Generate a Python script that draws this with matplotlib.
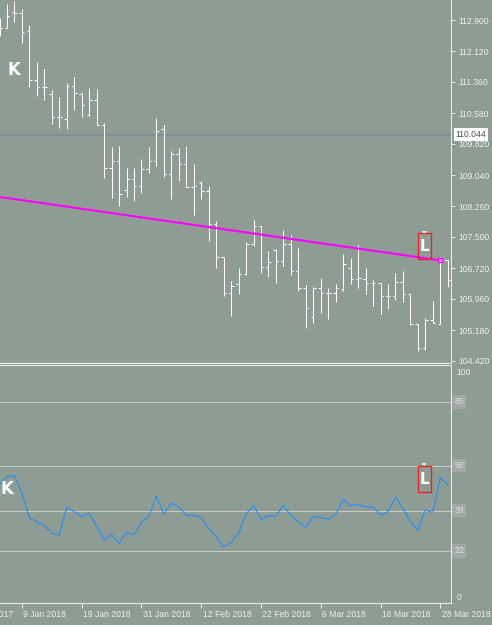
import matplotlib
matplotlib.use("Agg")
import matplotlib.pyplot as plt
from matplotlib.patches import Rectangle
import numpy as np

# daily bars, first one (index -1) is only partly on screen
bar_open = [112.601, 112.701, 113.100, 113.075, 112.626, 111.404, 111.229, 111.055, 110.481, 110.431,
            111.254, 111.055, 110.531, 110.905, 110.281, 109.209, 109.384, 108.660, 108.935, 108.760,
            109.184, 109.384, 110.182, 109.060, 109.558, 109.309, 108.735, 108.835, 108.635, 107.812,
            106.989, 106.092, 106.316, 106.565, 107.313, 107.762, 106.740, 107.164, 106.889, 107.313,
            106.640, 106.216, 105.493, 106.216, 106.092, 106.092, 106.191, 106.715, 106.441, 106.441,
            106.341, 106.341, 106.017, 106.017, 106.366, 106.067, 105.318, 104.720, 105.418, 105.318,
            106.914]
bar_high = [112.950, 113.299, 113.374, 113.175, 112.776, 111.853, 111.678, 111.154, 110.980, 111.329,
            111.479, 111.104, 111.204, 111.179, 110.331, 109.733, 109.758, 109.209, 109.209, 109.434,
            109.733, 110.456, 110.281, 109.633, 109.708, 109.758, 109.309, 108.885, 108.760, 107.887,
            106.989, 106.391, 106.715, 107.363, 107.912, 107.762, 107.139, 107.189, 107.663, 107.538,
            107.214, 106.291, 106.241, 106.466, 106.216, 106.316, 107.064, 106.964, 107.289, 106.715,
            106.416, 106.341, 106.316, 106.590, 106.640, 106.067, 105.318, 105.468, 105.892, 106.989,
            106.914]
bar_low = [112.501, 112.701, 112.850, 112.327, 111.229, 111.005, 110.905, 110.306, 110.207, 110.182,
           110.656, 110.481, 110.506, 110.281, 108.960, 108.461, 108.261, 108.486, 108.386, 108.586,
           109.085, 109.259, 108.985, 108.436, 108.885, 108.735, 108.037, 108.436, 107.388, 106.715,
           106.017, 105.518, 106.067, 106.540, 107.264, 106.590, 106.490, 106.341, 106.765, 106.540,
           106.141, 105.218, 105.343, 105.593, 105.443, 105.866, 106.141, 106.316, 106.216, 106.067,
           105.767, 105.567, 105.692, 105.917, 105.866, 105.293, 104.645, 104.670, 105.343, 105.318,
           106.241]
bar_close = [112.701, 113.000, 113.075, 112.601, 111.404, 111.229, 111.229, 110.481, 110.481, 111.254,
             111.080, 110.780, 110.905, 110.281, 109.209, 109.384, 108.561, 108.935, 108.760, 109.184,
             109.384, 110.132, 109.060, 109.558, 109.309, 108.735, 108.760, 108.635, 107.812, 106.989,
             106.092, 106.266, 106.565, 107.313, 107.762, 106.740, 106.864, 106.889, 107.313, 106.640,
             106.216, 105.717, 106.216, 106.092, 106.092, 106.216, 106.815, 106.441, 106.466, 106.341,
             106.341, 106.017, 106.017, 106.366, 106.067, 105.318, 104.720, 105.418, 105.343, 106.914,
             106.416]

# oscillator values, same bars
rsi = [50.1, 53.4, 53.8, 46.6, 35.8, 34.4, 32.7, 29.5, 28.8, 40.5,
       38.6, 36.5, 37.9, 32.3, 26.6, 29.0, 25.2, 29.9, 28.8, 34.1,
       36.5, 45.2, 37.5, 42.2, 40.7, 36.9, 37.2, 36.2, 31.6, 28.0,
       23.8, 25.5, 29.5, 37.6, 41.2, 35.4, 36.8, 36.8, 41.2, 36.9,
       34.4, 31.9, 36.5, 36.1, 35.5, 37.5, 43.8, 41.2, 41.7, 40.6,
       40.6, 37.2, 38.6, 44.7, 40.0, 34.4, 30.9, 39.3, 38.3, 53.0,
       49.9]

price_ticks = [112.900, 112.120, 111.360, 110.580, 109.820, 109.040,
               108.260, 107.500, 106.720, 105.960, 105.180, 104.420]
hline_price = 110.044
levels = [85, 58, 39, 22]

date_labels = ["28 Dec 2017", "9 Jan 2018", "19 Jan 2018", "31 Jan 2018", "12 Feb 2018",
               "22 Feb 2018", "6 Mar 2018", "16 Mar 2018", "28 Mar 2018"]
date_pos = [-6, 2, 10, 18, 26, 34, 42, 50, 58]

# trend line anchors (bar, price)
trend_bars = [-2, 58]
trend_prices = [108.521, 106.914]

bg = "#8e9c94"
fg = "#eef0ee"
small = "Liberation Sans"
W, H = 492, 625
idx = np.arange(-1, len(bar_open) - 1)

fig = plt.figure(figsize=(W / 100, H / 100), dpi=100)
fig.patch.set_facecolor(bg)
ax = fig.add_axes([0, (H - 362.5) / H, 451 / W, 362.5 / H])
ax2 = fig.add_axes([0, (H - 603) / H, 451 / W, (603 - 365) / H])

x0, x1 = -7 / 7.47, (451 - 7) / 7.47
for a in (ax, ax2):
    a.set_facecolor(bg)
    a.set_xlim(x0, x1)
    for s in ("left", "top"):
        a.spines[s].set_visible(False)
    for s in ("right", "bottom"):
        a.spines[s].set_color("#e8ece8")
        a.spines[s].set_linewidth(0.8)
ax2.spines["top"].set_visible(True)
ax2.spines["top"].set_color("#e8ece8")
ax2.spines["top"].set_linewidth(0.8)

# ---- price pane ----
ax.set_ylim(104.371, 113.399)
lw = 0.75
ax.vlines(idx, bar_low, bar_high, colors="white", lw=lw)
ax.hlines(bar_open, idx - 0.33, idx, colors="white", lw=lw)
ax.hlines(bar_close, idx, idx + 0.33, colors="white", lw=lw)

ax.axhline(hline_price, color="#7a8a9e", lw=1.1, zorder=1)
ax.plot(trend_bars, trend_prices, color="#ff00ff", lw=1.5, zorder=3)
ax.plot(trend_bars[-1], trend_prices[-1], marker="s", ms=3.5, mfc="#f2dff2",
        mec="#ff00ff", mew=1, zorder=4)

ax.set_xticks([])
ax.yaxis.tick_right()
ax.set_yticks(price_ticks)
ax.set_yticklabels(["%.3f" % p for p in price_ticks], family=small)
ax.tick_params(axis="y", colors=fg, labelsize=6.2, length=3, width=0.7, pad=2)
ax.annotate("%.3f" % hline_price, xy=(1, hline_price), xycoords=("axes fraction", "data"),
            xytext=(3.5, 0), textcoords="offset points", ha="left", va="center",
            fontsize=6.2, family=small, color="#505050",
            bbox=dict(boxstyle="square,pad=0.2", fc="white", ec="none"))

ax.text(0.95, 111.65, "K", color="white", fontsize=12, fontweight="bold", ha="center", va="center")
ax.add_patch(Rectangle((55.02, 106.939), 1.74, 0.649, fill=False, ec="#e8262a", lw=1.0, zorder=5))
ax.text(55.9, 107.26, "L", color="white", fontsize=11, fontweight="bold", ha="center", va="center", zorder=6)
ax.plot([55.75, 56.05], [107.62, 107.62], color="white", lw=1.2)

# ---- oscillator pane ----
ax2.set_ylim(0, 100.6)
for lv in levels:
    ax2.axhline(lv, color="#c8ccc8", lw=0.8, zorder=1)
    ax2.annotate(str(lv), xy=(1, lv), xycoords=("axes fraction", "data"),
                 xytext=(2.5, 0), textcoords="offset points", ha="left", va="center",
                 fontsize=6.2, family=small, color="#dde0dd",
                 bbox=dict(boxstyle="square,pad=0.25", fc="#a3aaa6", ec="none"))
ax2.annotate("100", xy=(1, 100), xycoords=("axes fraction", "data"), xytext=(4, -1),
             textcoords="offset points", ha="left", va="top", fontsize=6.2, family=small, color=fg)
ax2.annotate("0", xy=(1, 0), xycoords=("axes fraction", "data"), xytext=(4, 1),
             textcoords="offset points", ha="left", va="bottom", fontsize=6.2, family=small, color=fg)

ax2.plot(idx, rsi, color="#1e90ff", lw=0.8, zorder=3)

ax2.text(-0.02, 48.0, "K", color="white", fontsize=12, fontweight="bold", ha="center", va="center")
ax2.add_patch(Rectangle((55.06, 47.1), 1.66, 10.8, fill=False, ec="#e8262a", lw=1.0, zorder=5))
ax2.text(55.9, 52.3, "L", color="white", fontsize=11, fontweight="bold", ha="center", va="center", zorder=6)
ax2.plot([55.7, 55.95], [58.6, 58.6], color="white", lw=1.2)

ax2.set_yticks([])
ax2.set_xticks([p for p in date_pos if x0 <= p <= x1])
ax2.set_xticklabels([])
ax2.tick_params(axis="x", colors=fg, length=3.5, width=0.7, direction="out")
for p, lab in zip(date_pos, date_labels):
    ax2.annotate(lab, xy=(p, 0), xycoords=ax2.get_xaxis_transform(), xytext=(1, -8),
                 textcoords="offset points", ha="left", va="center", fontsize=6.2,
                 family=small, color=fg, annotation_clip=False)

fig.savefig("out.png", dpi=100, facecolor=bg)
